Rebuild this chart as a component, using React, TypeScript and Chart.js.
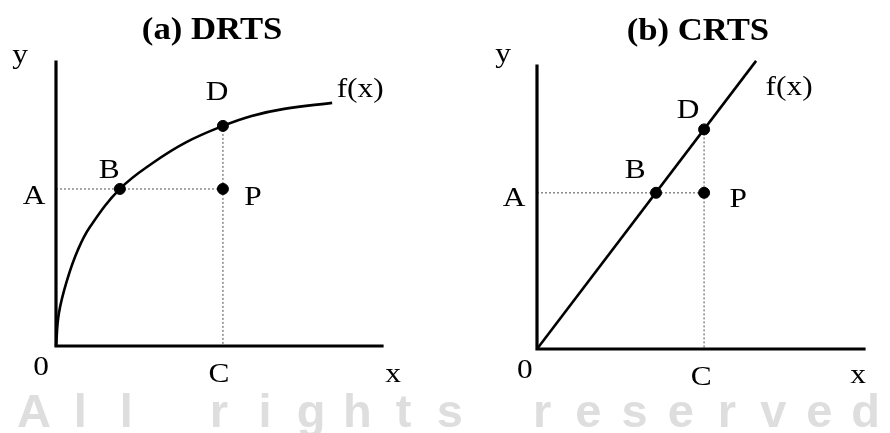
import React, { useEffect, useRef } from "react";
import { Chart, registerables } from "chart.js";
Chart.register(...registerables);

// ---- Panel (a) DRTS ----
const drtsCurveX = [0, 0.09, 0.34, 0.67, 1.04, 1.96, 3.0, 4.0, 5.12, 6.0, 7.0, 8.47];
const drtsCurveY = [0, 1.16, 2.32, 3.38, 4.19, 5.53, 6.47, 7.18, 7.75, 8.1, 8.35, 8.56];
const drtsB = { x: 1.96, y: 5.53 };
const drtsD = { x: 5.12, y: 7.75 };
const drtsP = { x: 5.12, y: 5.53 };
const drtsLabelText = ["y", "A", "B", "D", "P", "f(x)", "0", "C", "x"];
const drtsLabelX = [-1.1, -0.67, 1.63, 4.94, 6.04, 9.33, -0.46, 5.0, 10.34];
const drtsLabelY = [9.96, 5.0, 5.92, 8.66, 4.96, 8.77, -1.02, -1.27, -1.27];
const drtsTitle = "(a) DRTS";
const drtsTitlePos = { x: 4.79, y: 10.81 };

// ---- Panel (b) CRTS ----
const crtsLineX = [0, 6.7];
const crtsLineY = [0, 10.18];
const crtsB = { x: 3.64, y: 5.52 };
const crtsD = { x: 5.11, y: 7.76 };
const crtsP = { x: 5.11, y: 5.52 };
const crtsLabelText = ["y", "A", "B", "D", "P", "f(x)", "0", "C", "x"];
const crtsLabelX = [-1.04, -0.7, 3.0, 4.62, 6.15, 7.71, -0.37, 5.02, 9.82];
const crtsLabelY = [10.14, 5.05, 6.04, 8.16, 5.02, 8.98, -1.02, -1.27, -1.2];
const crtsTitle = "(b) CRTS";
const crtsTitlePos = { x: 4.92, y: 10.92 };

const axisMax = 10;
const watermark = "All rights reserved";

const SERIF = '"Liberation Serif", "Times New Roman", serif';
const STRETCH = 1.12;

function zip(xs: number[], ys: number[]) {
  return xs.map((x, i) => ({ x, y: ys[i] }));
}

function makePanel(
  canvas: HTMLCanvasElement,
  offsetLeft: number,
  padding: { left: number; right: number; top: number; bottom: number },
  curve: { x: number; y: number }[],
  smooth: boolean,
  B: { x: number; y: number },
  D: { x: number; y: number },
  P: { x: number; y: number },
  labelText: string[],
  labelX: number[],
  labelY: number[],
  title: string,
  titlePos: { x: number; y: number }
) {
  const textPlugin = {
    id: "texts",
    beforeDatasetsDraw(chart: any) {
      const ctx = chart.ctx;
      ctx.save();
      ctx.fillStyle = "#dedede";
      ctx.font = 'bold 47px "Liberation Sans", Arial, sans-serif';
      ctx.textAlign = "center";
      ctx.textBaseline = "alphabetic";
      const chars = watermark.split("");
      chars.forEach((c, i) => {
        const px = 34 + i * 46.2 - offsetLeft;
        ctx.fillText(c, px, 427);
      });
      ctx.restore();
    },
    afterDatasetsDraw(chart: any) {
      const ctx = chart.ctx;
      const xs = chart.scales.x;
      const ys = chart.scales.y;
      ctx.save();
      ctx.fillStyle = "#000";
      ctx.textAlign = "center";
      ctx.textBaseline = "alphabetic";
      ctx.font = `28px ${SERIF}`;
      labelText.forEach((t, i) => {
        const px = xs.getPixelForValue(labelX[i]);
        const py = ys.getPixelForValue(labelY[i]);
        ctx.save();
        ctx.translate(px, py);
        ctx.scale(STRETCH, 1);
        ctx.fillText(t, 0, 0);
        ctx.restore();
      });
      ctx.font = `bold 31px ${SERIF}`;
      ctx.save();
      ctx.translate(xs.getPixelForValue(titlePos.x), ys.getPixelForValue(titlePos.y));
      ctx.scale(STRETCH, 1);
      ctx.fillText(title, 0, 0);
      ctx.restore();
      ctx.restore();
    },
  };

  const dotted = {
    borderColor: "#8a8a8a",
    borderWidth: 1.5,
    borderDash: [2, 2],
    pointRadius: 0,
    showLine: true,
    clip: false as any,
    order: 4,
  };
  const axis = {
    borderColor: "#000",
    borderWidth: 3.2,
    pointRadius: 0,
    showLine: true,
    clip: false as any,
    borderCapStyle: "square" as const,
    order: 3,
  };

  return new Chart(canvas, {
    type: "scatter",
    data: {
      datasets: [
        { ...dotted, data: [{ x: 0, y: B.y }, { x: P.x, y: P.y }] },
        { ...dotted, data: [{ x: D.x, y: D.y }, { x: D.x, y: 0 }] },
        { ...axis, data: [{ x: 0, y: axisMax }, { x: 0, y: 0 }, { x: axisMax, y: 0 }] },
        {
          data: curve,
          showLine: true,
          borderColor: "#000",
          borderWidth: 2.6,
          pointRadius: 0,
          tension: smooth ? 0.4 : 0,
          clip: false as any,
          order: 2,
        },
        {
          data: [B, D, P],
          showLine: false,
          pointRadius: 5.5,
          pointStyle: "circle",
          backgroundColor: "#000",
          borderColor: "#000",
          pointBackgroundColor: "#000",
          pointBorderColor: "#000",
          pointBorderWidth: 1,
          clip: false as any,
          order: 1,
        },
      ],
    },
    options: {
      animation: false,
      responsive: false,
      maintainAspectRatio: false,
      devicePixelRatio: 1,
      layout: { padding },
      scales: {
        x: { type: "linear", min: 0, max: axisMax, display: false },
        y: { type: "linear", min: 0, max: axisMax, display: false },
      },
      plugins: {
        legend: { display: false },
        tooltip: { enabled: false },
        title: { display: false },
      },
      events: [],
    },
    plugins: [textPlugin],
  });
}

export default function App() {
  const leftRef = useRef<HTMLCanvasElement>(null);
  const rightRef = useRef<HTMLCanvasElement>(null);

  useEffect(() => {
    const c1 = makePanel(
      leftRef.current!,
      0,
      { left: 56, right: 63, top: 62, bottom: 87 },
      zip(drtsCurveX, drtsCurveY),
      true,
      drtsB,
      drtsD,
      drtsP,
      drtsLabelText,
      drtsLabelX,
      drtsLabelY,
      drtsTitle,
      drtsTitlePos
    );
    const c2 = makePanel(
      rightRef.current!,
      445,
      { left: 92, right: 26, top: 66, bottom: 84 },
      zip(crtsLineX, crtsLineY),
      false,
      crtsB,
      crtsD,
      crtsP,
      crtsLabelText,
      crtsLabelX,
      crtsLabelY,
      crtsTitle,
      crtsTitlePos
    );
    return () => {
      c1.destroy();
      c2.destroy();
    };
  }, []);

  return (
    <div
      style={{
        position: "fixed",
        left: 0,
        top: 0,
        width: 890,
        height: 433,
        background: "#fff",
        overflow: "hidden",
      }}
    >
      <canvas
        ref={leftRef}
        width={445}
        height={433}
        style={{ position: "absolute", left: 0, top: 0, width: 445, height: 433 }}
      />
      <canvas
        ref={rightRef}
        width={445}
        height={433}
        style={{ position: "absolute", left: 445, top: 0, width: 445, height: 433 }}
      />
    </div>
  );
}
